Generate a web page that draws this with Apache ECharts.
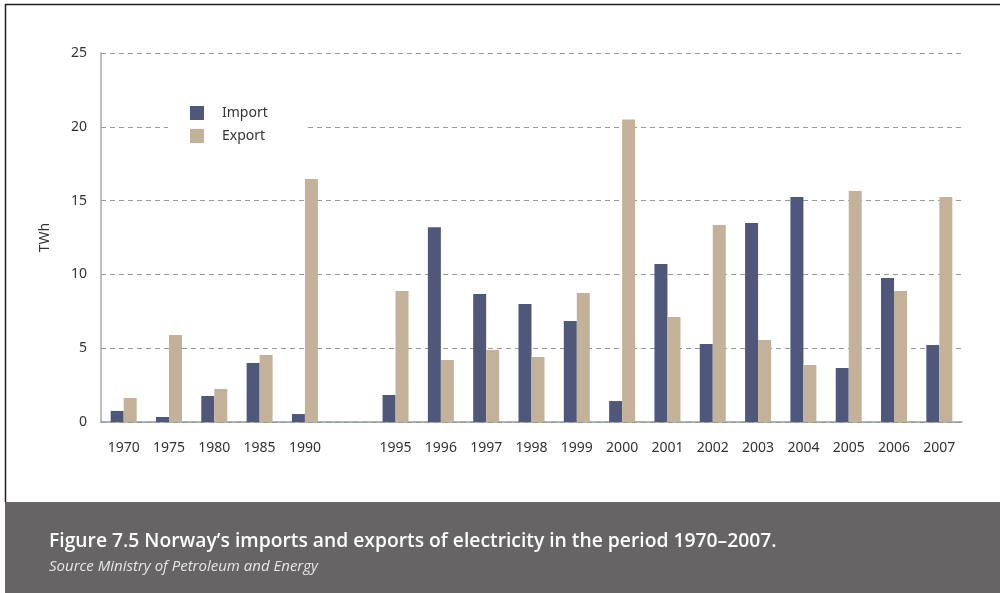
<!DOCTYPE html>
<html>
<head>
<meta charset="utf-8">
<script src="https://cdn.jsdelivr.net/npm/echarts@6/dist/echarts.min.js"></script>
<style>
  html, body { margin: 0; padding: 0; background: #fff; }
  #chart { width: 1000px; height: 593px; }
</style>
</head>
<body>
<div id="chart"></div>
<script>
// years on the x axis, '' is the empty slot between 1990 and 1995
var years = ['1970', '1975', '1980', '1985', '1990', '', '1995', '1996', '1997', '1998', '1999',
  '2000', '2001', '2002', '2003', '2004', '2005', '2006', '2007']
// TWh
var importData = [0.75, 0.34, 1.76, 4.0, 0.54, null, 1.83, 13.2, 8.67, 8.0, 6.84,
  1.42, 10.7, 5.28, 13.48, 15.24, 3.66, 9.76, 5.22]
var exportData = [1.63, 5.9, 2.24, 4.54, 16.46, null, 8.88, 4.2, 4.88, 4.4, 8.74,
  20.5, 7.11, 13.35, 5.56, 3.86, 15.65, 8.88, 15.24]
var yTicks = [0, 5, 10, 15, 20, 25]

var chart = echarts.init(document.getElementById('chart'))
var font = "'Noto Sans', sans-serif"

chart.setOption({
  animation: false,
  textStyle: { fontFamily: font },
  graphic: [
    // caption band
    { type: 'rect', z: 0, shape: { x: 5, y: 502, width: 995, height: 91 }, style: { fill: '#666464' } },
    // frame lines
    { type: 'line', z: 1, shape: { x1: 5, y1: 4.5, x2: 1000, y2: 4.5 }, style: { stroke: '#231f20', lineWidth: 1.5 } },
    { type: 'line', z: 1, shape: { x1: 5.5, y1: 4, x2: 5.5, y2: 502 }, style: { stroke: '#231f20', lineWidth: 1.5 } }
  ],
  title: {
    text: 'Figure 7.5 Norway’s imports and exports of electricity in the period 1970–2007.',
    subtext: 'Source Ministry of Petroleum and Energy',
    left: 44,
    top: 527,
    itemGap: 8,
    textStyle: {
      color: '#ffffff',
      fontFamily: "'Open Sans', sans-serif",
      fontWeight: 600,
      fontSize: 19.3
    },
    subtextStyle: {
      color: '#e6e6e6',
      fontFamily: "'Open Sans', sans-serif",
      fontStyle: 'italic',
      fontSize: 15
    }
  },
  legend: {
    data: ['Import', 'Export'],
    orient: 'vertical',
    left: 168,
    top: 97,
    padding: [9, 38, 9, 22],
    backgroundColor: '#ffffff',
    itemWidth: 14,
    itemHeight: 14,
    itemGap: 9,
    icon: 'rect',
    textStyle: { fontSize: 14, color: '#333', padding: [0, 0, 0, 13] }
  },
  grid: {
    left: 101,
    right: 38,
    top: 53,
    bottom: 171
  },
  xAxis: {
    type: 'category',
    data: years,
    axisTick: { show: false },
    axisLine: { lineStyle: { color: '#929a9a', width: 1.5 } },
    axisLabel: { color: '#333', fontSize: 14, margin: 19 }
  },
  yAxis: {
    type: 'value',
    min: yTicks[0],
    max: yTicks[yTicks.length - 1],
    interval: 5,
    name: 'TWh',
    nameLocation: 'middle',
    nameGap: 49,
    nameTextStyle: { color: '#333', fontSize: 14 },
    axisLine: { show: true, lineStyle: { color: '#aaaaaa', width: 1.5 } },
    axisTick: { show: false },
    axisLabel: { color: '#333', fontSize: 14, margin: 14 },
    splitLine: { lineStyle: { color: '#999999', width: 1.2, type: [5, 4] } }
  },
  series: [{
    name: 'Import',
    type: 'bar',
    barWidth: 13,
    barGap: '0%',
    itemStyle: { color: '#4f587b' },
    data: importData
  }, {
    name: 'Export',
    type: 'bar',
    barWidth: 13,
    itemStyle: { color: '#c3b299' },
    data: exportData
  }]
})
</script>
</body>
</html>
